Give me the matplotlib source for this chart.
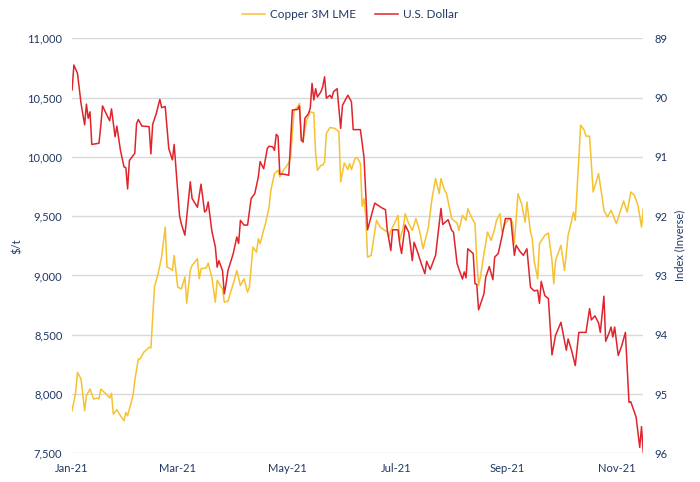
import pandas as pd
import matplotlib
matplotlib.use("Agg")
import matplotlib.pyplot as plt
import matplotlib.dates as mdates
from matplotlib.ticker import FuncFormatter

plt.rcParams['font.family'] = ['Lato', 'DejaVu Sans']

start = pd.Timestamp("2021-01-04")

# copper 3M LME, $/t  (day offsets from 4 Jan 2021)
cu_days = [0, 2, 3, 5, 7, 8, 10, 12, 14, 15, 16, 19, 21, 22, 23, 25, 27, 29, 30, 31,
           34, 35, 37, 38, 40, 43, 44, 46, 48, 50, 52, 53, 55, 56, 57, 59, 61, 63, 64, 66,
           67, 70, 71, 72, 75, 76, 78, 80, 81, 84, 85, 87, 90, 92, 94, 96, 98, 99, 101, 103,
           104, 105, 107, 108, 110, 111, 113, 115, 116, 118, 121, 122, 124, 126, 127, 128, 129, 131, 133, 135,
           136, 137, 139, 140, 141, 142, 144, 147, 149, 150, 152, 154, 155, 156, 158, 159, 160, 161, 162, 163,
           164, 165, 167, 170, 172, 176, 177, 178, 180, 182, 183, 185, 186, 188, 190, 192, 194, 196, 199, 201,
           203, 205, 206, 208, 209, 212, 215, 216, 218, 220, 221, 223, 225, 226, 227, 228, 230, 232, 234, 236,
           237, 239, 240, 242, 244, 246, 247, 249, 251, 253, 254, 256, 257, 258, 260, 261, 264, 266, 268, 269,
           270, 273, 275, 277, 279, 280, 281, 282, 284, 286, 287, 289, 291, 294, 296, 297, 299, 301, 304, 308,
           310, 312, 314, 316, 318, 319]
cu_vals = [7859, 8014, 8183, 8127, 7859, 7986, 8042, 7958, 7966, 7958, 8042, 8000, 7966, 8006, 7831, 7868, 7817, 7775, 7845, 7817,
           7986, 8113, 8296, 8296, 8352, 8394, 8389, 8901, 9014, 9155, 9408, 9070, 9056, 9042, 9169, 8901, 8887, 8986, 8766, 9042,
           9085, 9141, 8972, 9056, 9065, 9104, 8986, 8775, 8958, 8887, 8775, 8783, 8930, 9042, 8915, 8972, 8859, 8901, 9239, 9197,
           9310, 9268, 9386, 9437, 9577, 9718, 9859, 9887, 9831, 9887, 9949, 9994, 10394, 10423, 10451, 10169, 10141, 10310, 10380, 10372,
           10028, 9887, 9930, 9930, 9958, 10197, 10248, 10239, 10211, 9789, 9949, 9893, 9944, 9893, 9986, 9994, 9972, 9944, 9583, 9648,
           9493, 9155, 9169, 9465, 9408, 9366, 9324, 9380, 9437, 9507, 9296, 9408, 9521, 9437, 9380, 9479, 9380, 9225, 9408, 9648,
           9817, 9690, 9817, 9718, 9696, 9479, 9442, 9380, 9507, 9465, 9563, 9493, 9437, 9127, 8915, 8986, 9183, 9366, 9296, 9394,
           9465, 9521, 9366, 9437, 9479, 9451, 9268, 9690, 9606, 9451, 9620, 9366, 9310, 9127, 8972, 9268, 9338, 9358, 9127, 8930,
           9127, 9254, 9042, 9338, 9465, 9535, 9465, 9718, 10268, 10225, 10175, 10175, 9704, 9859, 9662, 9549, 9493, 9549, 9437, 9628,
           9535, 9704, 9676, 9592, 9408, 9563]

# U.S. dollar index (plotted on an inverted axis)
usd_days = [0, 1, 3, 5, 7, 8, 9, 10, 11, 15, 16, 17, 19, 21, 22, 24, 25, 27, 29, 30,
            31, 32, 35, 36, 37, 39, 43, 44, 45, 47, 49, 50, 52, 54, 56, 57, 60, 61, 63, 66,
            67, 70, 72, 74, 75, 76, 78, 80, 81, 82, 84, 85, 86, 87, 90, 92, 93, 94, 96, 98,
            100, 102, 104, 105, 107, 109, 110, 112, 113, 114, 115, 116, 118, 121, 123, 126, 127, 128, 129, 130,
            132, 133, 134, 135, 136, 137, 139, 140, 141, 142, 144, 145, 146, 148, 150, 151, 154, 156, 157, 161,
            163, 165, 169, 173, 175, 176, 178, 179, 182, 183, 184, 186, 188, 190, 191, 193, 195, 197, 198, 200,
            203, 206, 207, 210, 212, 213, 215, 216, 218, 219, 220, 221, 224, 225, 226, 227, 230, 231, 233, 235,
            236, 238, 240, 242, 245, 247, 248, 250, 252, 254, 256, 258, 260, 261, 262, 264, 266, 268, 270, 273,
            276, 277, 279, 281, 283, 287, 289, 290, 292, 294, 295, 297, 298, 300, 301, 302, 303, 305, 307, 309,
            311, 312, 315, 317, 318, 319]
usd_vals = [89.87, 89.45, 89.59, 90.10, 90.46, 90.11, 90.35, 90.24, 90.79, 90.77, 90.48, 90.14, 90.27, 90.39, 90.19, 90.66, 90.48, 90.89, 91.17, 91.18,
            91.54, 91.06, 90.94, 90.44, 90.37, 90.48, 90.49, 90.95, 90.45, 90.27, 90.03, 90.17, 90.15, 90.86, 91.05, 90.79, 91.99, 92.13, 92.32, 91.42,
            91.70, 91.85, 91.46, 91.93, 91.90, 91.76, 92.24, 92.52, 92.86, 92.75, 92.92, 93.31, 93.14, 92.92, 92.63, 92.35, 92.46, 92.07, 92.15, 92.15,
            91.70, 91.62, 91.34, 91.08, 91.20, 90.86, 90.82, 90.83, 90.89, 90.62, 90.65, 91.29, 91.29, 91.31, 90.21, 90.20, 90.14, 90.72, 90.75, 90.35,
            90.27, 90.18, 89.76, 90.04, 89.85, 89.99, 89.90, 89.81, 89.65, 90.01, 89.96, 90.01, 89.90, 89.85, 90.52, 90.13, 89.96, 90.07, 90.54, 90.54,
            91.00, 92.23, 91.78, 91.86, 91.89, 92.23, 92.58, 92.23, 92.23, 92.47, 92.63, 92.15, 92.27, 92.75, 92.44, 92.61, 92.80, 92.97, 92.76, 92.90,
            92.66, 91.87, 92.14, 92.06, 92.24, 92.27, 92.80, 92.89, 93.06, 92.94, 93.04, 92.55, 92.63, 93.14, 93.15, 93.58, 93.31, 93.03, 92.85, 93.07,
            92.69, 92.63, 92.35, 92.04, 92.04, 92.66, 92.49, 92.59, 92.66, 92.55, 93.20, 93.26, 93.25, 93.47, 93.10, 93.34, 93.39, 94.34, 94.01, 93.79,
            94.26, 94.07, 94.27, 94.52, 93.96, 93.96, 93.56, 93.75, 93.68, 93.80, 93.96, 93.35, 94.11, 93.96, 93.87, 94.04, 93.87, 94.35, 94.18, 93.96,
            95.14, 95.13, 95.39, 95.90, 95.55, 96.00]

cu_dates = start + pd.to_timedelta(cu_days, unit="D")
usd_dates = start + pd.to_timedelta(usd_days, unit="D")

tick_dates = pd.to_datetime(["2021-01-04", "2021-03-04", "2021-05-04",
                             "2021-07-04", "2021-09-04", "2021-11-04"])

navy = "#1F3864"
copper_col = "#F5C231"
usd_col = "#E0242C"

fig = plt.figure(figsize=(7.0, 4.82), dpi=100)
ax = fig.add_axes([0.103, 0.0595, 0.816, 0.861])
ax2 = ax.twinx()

l1, = ax.plot(cu_dates, cu_vals, color=copper_col, lw=1.1, label="Copper 3M LME")
l2, = ax2.plot(usd_dates, usd_vals, color=usd_col, lw=1.1, label="U.S. Dollar")

ax.set_xlim(cu_dates[0], cu_dates[-1])
ax.set_ylim(7500, 11000)
ax.set_yticks(range(7500, 11001, 500))
ax.yaxis.set_major_formatter(FuncFormatter(lambda v, p: f"{int(v):,}"))
ax2.set_ylim(96, 89)
ax2.set_yticks(range(89, 97))

ax.set_xticks(tick_dates)
ax.xaxis.set_major_formatter(mdates.DateFormatter("%b-%y"))

ax.grid(axis="y", color="#D9D9D9", lw=1.0)
ax.set_axisbelow(True)
for a in (ax, ax2):
    for s in a.spines.values():
        s.set_visible(False)
    a.tick_params(length=0, labelsize=8, labelcolor=navy)
ax.tick_params(axis="y", pad=7)
ax.tick_params(axis="x", pad=7)
ax2.tick_params(axis="y", pad=8)

ax.set_ylabel("$/t", color=navy, fontsize=8, labelpad=3)
ax2.set_ylabel("Index (Inverse)", color=navy, fontsize=8, labelpad=5)

fig.legend(handles=[l1, l2], loc="center", bbox_to_anchor=(0.5, 0.969), ncol=2,
           frameon=False, fontsize=8.5, labelcolor=navy, handlelength=2.0,
           columnspacing=1.6, handletextpad=0.4)

fig.savefig("out.png", dpi=100)
